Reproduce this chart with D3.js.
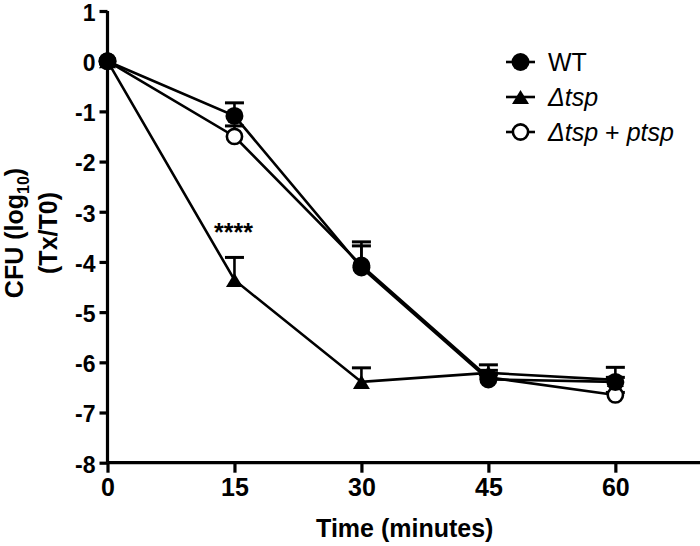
<!DOCTYPE html>
<html>
<head>
<meta charset="utf-8">
<script src="https://cdn.jsdelivr.net/npm/d3@7"></script>
<style>
  html, body { margin: 0; padding: 0; background: #fff; }
  svg { display: block; font-family: "Liberation Sans", Arial, Helvetica, sans-serif; }
</style>
</head>
<body>
<svg id="chart" width="700" height="546"></svg>
<script>
// ---- data ----
const times = [0, 15, 30, 45, 60];
const wtMean = [0, -1.09, -4.11, -6.34, -6.39];
const wtErr = [0, 0.26, 0.43, 0.29, 0.29];
const tspMean = [0, -4.36, -6.39, -6.21, -6.35];
const tspErr = [0, 0.45, 0.28, 0.05, 0.05];
const compMean = [0, -1.50, -4.07, -6.30, -6.65];
const compErr = [0, 0.21, 0.47, 0.05, 0.05];
const xTicks = [0, 15, 30, 45, 60];
const yTicks = [1, 0, -1, -2, -3, -4, -5, -6, -7, -8];

const series = [
  { name: "comp", mean: compMean, err: compErr, shape: "open" },
  { name: "tsp", mean: tspMean, err: tspErr, shape: "triangle" },
  { name: "WT", mean: wtMean, err: wtErr, shape: "circle" }
];

const svg = d3.select("#chart");
const x = d3.scaleLinear().domain([0, 70]).range([107.5, 700]);
const y = d3.scaleLinear().domain([-8, 1]).range([462.7, 11]);

// axes
const yAxis = d3.axisLeft(y).tickValues(yTicks).tickSize(8).tickPadding(4)
  .tickFormat(d => String(d));
const gy = svg.append("g").attr("transform", `translate(${x(0)},0)`).call(yAxis);
const xAxis = d3.axisBottom(x).tickValues(xTicks).tickSize(10).tickPadding(6)
  .tickFormat(d => String(d));
const gx = svg.append("g").attr("transform", `translate(0,${y(-8)})`).call(xAxis);
[gx, gy].forEach(g => {
  g.select(".domain").attr("stroke", "#000").attr("stroke-width", 3.2);
  g.selectAll(".tick line").attr("stroke", "#000").attr("stroke-width", 3.2);
  g.selectAll(".tick text").attr("fill", "#000")
    .attr("font-weight", "bold").attr("font-family", "'Liberation Sans', Arial, sans-serif");
});
gx.selectAll(".tick text").attr("font-size", 25);
gy.selectAll(".tick text").attr("font-size", 23).attr("dy", "9.4px");
gy.select(".domain").attr("d", `M0,${y(1)}V${y(-8)}`);
gx.select(".domain").attr("d", `M${x(0)},0H${x(70)}`);

// axis titles
svg.append("text")
  .attr("x", x(35) + 1).attr("y", 537)
  .attr("text-anchor", "middle").attr("font-size", 25).attr("font-weight", "bold")
  .text("Time (minutes)");

const yl1 = svg.append("text")
  .attr("transform", "translate(23,233) rotate(-90)")
  .attr("text-anchor", "middle").attr("font-size", 25).attr("font-weight", "bold");
yl1.append("tspan").text("CFU (log");
yl1.append("tspan").attr("font-size", 16).attr("dy", 6).text("10");
yl1.append("tspan").attr("dy", -6).text(")");
svg.append("text")
  .attr("transform", "translate(57,233) rotate(-90)")
  .attr("text-anchor", "middle").attr("font-size", 25).attr("font-weight", "bold")
  .text("(Tx/T0)");

// lines
const line = d3.line().x((d, i) => x(times[i])).y(d => y(d));
series.forEach(s => {
  svg.append("path").attr("d", line(s.mean))
    .attr("fill", "none").attr("stroke", "#000").attr("stroke-width", 2.6);
});

// error bars (upper only)
series.forEach(s => {
  s.mean.forEach((m, i) => {
    if (s.err[i] <= 0) return;
    const cx = x(times[i]);
    const top = y(m + s.err[i]);
    svg.append("line").attr("x1", cx).attr("x2", cx).attr("y1", y(m)).attr("y2", top)
      .attr("stroke", "#000").attr("stroke-width", 2.6);
    svg.append("line").attr("x1", cx - 9.5).attr("x2", cx + 9.5).attr("y1", top).attr("y2", top)
      .attr("stroke", "#000").attr("stroke-width", 3);
  });
});

// markers
function drawMarker(g, shape, cx, cy) {
  if (shape === "circle") {
    g.append("circle").attr("cx", cx).attr("cy", cy).attr("r", 9).attr("fill", "#000");
  } else if (shape === "open") {
    g.append("circle").attr("cx", cx).attr("cy", cy).attr("r", 7.6)
      .attr("fill", "#fff").attr("stroke", "#000").attr("stroke-width", 2.6);
  } else {
    const w = 17, h = 14;
    g.append("path")
      .attr("d", `M${cx},${cy - h / 2}L${cx + w / 2},${cy + h / 2}L${cx - w / 2},${cy + h / 2}Z`)
      .attr("fill", "#000");
  }
}
series.forEach(s => {
  s.mean.forEach((m, i) => drawMarker(svg, s.shape, x(times[i]), y(m)));
});

// significance
svg.append("text").attr("x", x(15) - 1).attr("y", 241)
  .attr("text-anchor", "middle").attr("font-size", 25).attr("font-weight", "bold")
  .text("****");

// legend
const legendRows = [
  { shape: "circle", parts: [["WT", "normal"]] },
  { shape: "triangle", parts: [["\u0394tsp", "italic"]] },
  { shape: "open", parts: [["\u0394tsp", "italic"], [" + ", "normal"], ["ptsp", "italic"]] }
];
legendRows.forEach((r, i) => {
  const cy = 62 + i * 35;
  svg.append("line").attr("x1", 506).attr("x2", 535).attr("y1", cy).attr("y2", cy)
    .attr("stroke", "#000").attr("stroke-width", 2.6);
  drawMarker(svg, r.shape, 520.5, cy);
  const t = svg.append("text").attr("x", 548).attr("y", cy + 9).attr("font-size", 25);
  r.parts.forEach(p => t.append("tspan").attr("font-style", p[1]).text(p[0]));
});
</script>
</body>
</html>
